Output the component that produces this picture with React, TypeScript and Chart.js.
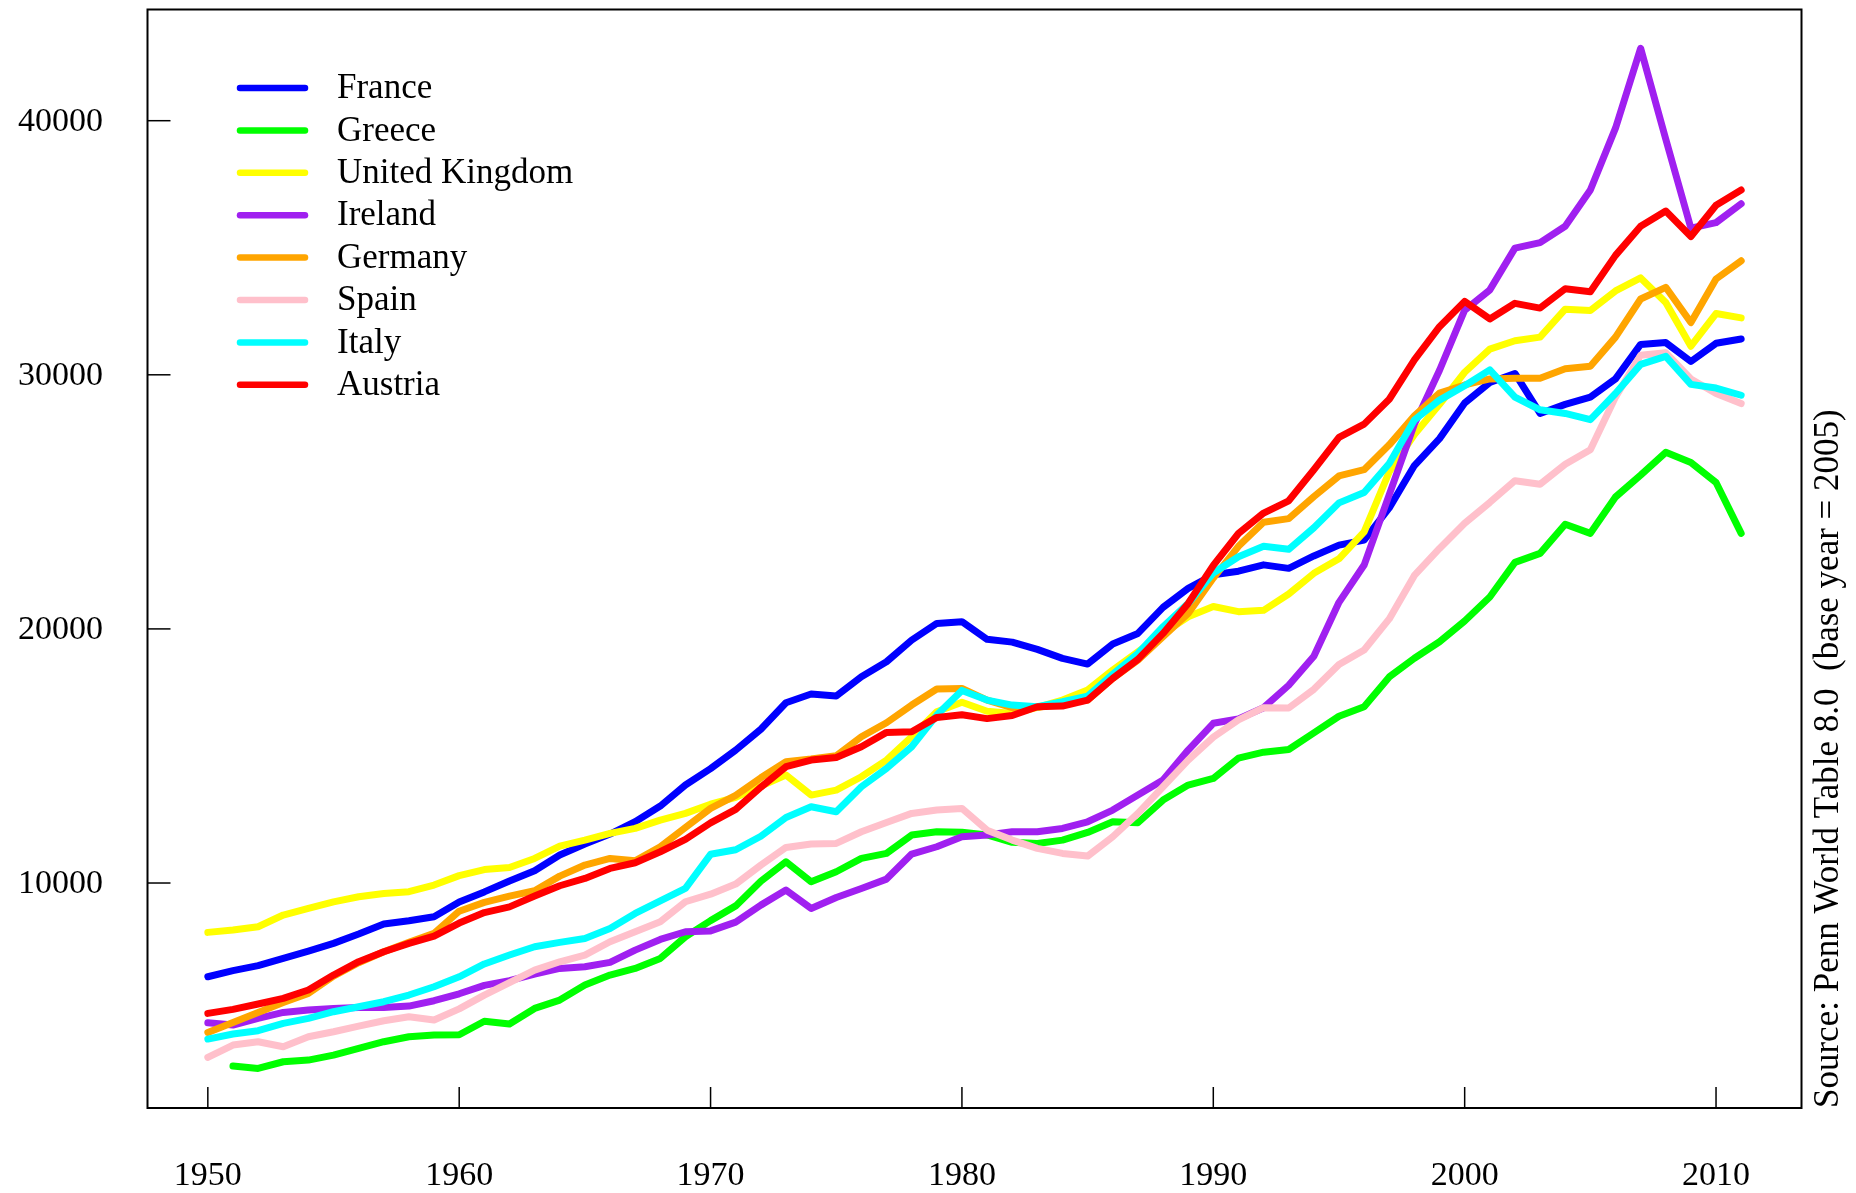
import React, { useEffect, useRef } from "react";
import { Chart, registerables } from "chart.js";

Chart.register(...registerables);

const years = [
  1950, 1951, 1952, 1953, 1954, 1955, 1956, 1957, 1958, 1959,
  1960, 1961, 1962, 1963, 1964, 1965, 1966, 1967, 1968, 1969,
  1970, 1971, 1972, 1973, 1974, 1975, 1976, 1977, 1978, 1979,
  1980, 1981, 1982, 1983, 1984, 1985, 1986, 1987, 1988, 1989,
  1990, 1991, 1992, 1993, 1994, 1995, 1996, 1997, 1998, 1999,
  2000, 2001, 2002, 2003, 2004, 2005, 2006, 2007, 2008, 2009,
  2010, 2011,
];

const france = [
  6312, 6550, 6750, 7034, 7322, 7625, 7992, 8385, 8516, 8674,
  9250, 9650, 10080, 10483, 11100, 11532, 11926, 12411, 13028, 13855,
  14500, 15230, 16050, 17095, 17436, 17357, 18118, 18708, 19561, 20217,
  20283, 19590, 19480, 19193, 18839, 18616, 19403, 19823, 20847, 21594,
  22130, 22270, 22520, 22383, 22872, 23296, 23492, 24764, 26428, 27488,
  28890, 29695, 30053, 28480, 28837, 29123, 29838, 31197, 31268, 30524,
  31240, 31411,
];

const greece = [
  null, 2796, 2704, 2966, 3032, 3229, 3491, 3754, 3951, 4016,
  4030, 4560, 4450, 5064, 5392, 5983, 6376, 6638, 7032, 7885,
  8520, 9100, 10070, 10836, 10049, 10443, 10968, 11164, 11886, 12017,
  12000, 11890, 11600, 11558, 11689, 11991, 12410, 12371, 13263, 13854,
  14115, 14916, 15150, 15256, 15908, 16561, 16934, 18110, 18844, 19496,
  20312, 21258, 22617, 22974, 24118, 23761, 25191, 26049, 26950, 26549,
  25763, 23761,
];

const unitedKingdom = [
  8057, 8150, 8280, 8740, 9000, 9260, 9460, 9590, 9660, 9920,
  10290, 10530, 10610, 10968, 11454, 11690, 11952, 12149, 12477, 12740,
  13100, 13369, 13815, 14248, 13460, 13657, 14182, 14838, 15756, 16740,
  17115, 16760, 16670, 16911, 17199, 17593, 18380, 19102, 19823, 20479,
  20880, 20680, 20730, 21372, 22187, 22758, 23818, 26183, 27651, 28842,
  30100, 31011, 31339, 31483, 32584, 32526, 33299, 33813, 32841, 31125,
  32412, 32240,
];

const ireland = [
  4502, 4410, 4672, 4908, 5000, 5066, 5105, 5105, 5158, 5368,
  5640, 5970, 6160, 6416, 6638, 6704, 6875, 7360, 7780, 8082,
  8115, 8460, 9130, 9721, 8999, 9432, 9787, 10154, 11138, 11427,
  11820, 11886, 12020, 12017, 12148, 12410, 12870, 13460, 14050, 15231,
  16285, 16460, 16900, 17783, 18925, 21045, 22513, 25286, 28059, 30179,
  32544, 33341, 34986, 35201, 35844, 37274, 39705, 42851, 39276, 35773,
  35987, 36731,
];

const germany = [
  4121, 4515, 4908, 5302, 5656, 6339, 6863, 7296, 7664, 8018,
  8890, 9240, 9487, 9695, 10272, 10706, 10968, 10877, 11428, 12188,
  12936, 13450, 14140, 14772, 14877, 15009, 15756, 16307, 17003, 17633,
  17659, 17200, 16900, 16910, 17068, 17199, 18052, 18774, 19692, 20610,
  22000, 23250, 24200, 24340, 25205, 26020, 26265, 27243, 28385, 29282,
  29600, 29838, 29866, 29866, 30238, 30338, 31482, 32984, 33442, 32055,
  33771, 34486,
];

const spain = [
  3137, 3623, 3754, 3557, 3951, 4148, 4370, 4580, 4738, 4607,
  5045, 5590, 6080, 6573, 6901, 7163, 7688, 8082, 8475, 9262,
  9560, 9957, 10705, 11401, 11532, 11558, 12017, 12385, 12739, 12870,
  12936, 12080, 11689, 11361, 11164, 11059, 11820, 12738, 13788, 14838,
  15740, 16420, 16900, 16887, 17621, 18599, 19170, 20393, 22106, 23166,
  24160, 24976, 25834, 25691, 26478, 27049, 29123, 30768, 30868, 29838,
  29266, 28866,
];

const italy = [
  3859, 4056, 4187, 4476, 4672, 4935, 5132, 5328, 5591, 5919,
  6310, 6815, 7165, 7491, 7662, 7819, 8213, 8803, 9302, 9787,
  11130, 11309, 11840, 12581, 13001, 12804, 13788, 14510, 15363, 16609,
  17580, 17199, 17002, 16937, 17134, 17357, 18222, 19036, 20086, 21004,
  22200, 22840, 23250, 23133, 23981, 24960, 25368, 26509, 28222, 29005,
  29570, 30195, 29123, 28622, 28479, 28236, 29266, 30410, 30725, 29624,
  29480, 29195,
];

const austria = [
  4869, 5027, 5237, 5460, 5788, 6378, 6903, 7296, 7625, 7913,
  8425, 8838, 9060, 9486, 9892, 10181, 10575, 10798, 11231, 11716,
  12365, 12900, 13770, 14576, 14838, 14943, 15363, 15927, 15953, 16517,
  16620, 16470, 16590, 16937, 16963, 17199, 18052, 18800, 19823, 21004,
  22500, 23756, 24560, 25042, 26265, 27537, 28059, 29038, 30587, 31892,
  32890, 32198, 32812, 32626, 33384, 33270, 34700, 35844, 36445, 35444,
  36673, 37274,
];

const seriesNames = [
  "France",
  "Greece",
  "United Kingdom",
  "Ireland",
  "Germany",
  "Spain",
  "Italy",
  "Austria",
];

const seriesColors = [
  "#0000FF",
  "#00FF00",
  "#FFFF00",
  "#A020F0",
  "#FFA500",
  "#FFC0CB",
  "#00FFFF",
  "#FF0000",
];

const xTicks = [1950, 1960, 1970, 1980, 1990, 2000, 2010];
const yTicks = [10000, 20000, 30000, 40000];
const sourceText = "Source: Penn World Table 8.0  (base year = 2005)";

const SERIF = "'Liberation Serif', 'Times New Roman', Times, serif";

export default function App() {
  const canvasRef = useRef<HTMLCanvasElement | null>(null);

  useEffect(() => {
    const canvas = canvasRef.current;
    if (!canvas) return;
    const seriesValues = [
      france,
      greece,
      unitedKingdom,
      ireland,
      germany,
      spain,
      italy,
      austria,
    ];

    const datasets = seriesNames.map((name, i) => ({
      label: name,
      data: years.map((yr, j) => ({ x: yr, y: seriesValues[i][j] })),
      borderColor: seriesColors[i],
      backgroundColor: seriesColors[i],
      borderWidth: 7,
      pointRadius: 0,
      pointHoverRadius: 0,
      tension: 0,
      fill: false,
      borderCapStyle: "round" as const,
      borderJoinStyle: "round" as const,
      order: seriesNames.length - i,
      spanGaps: false,
    }));

    const framePlugin = {
      id: "framePlugin",
      afterDraw(chart: any) {
        const ctx: CanvasRenderingContext2D = chart.ctx;
        const area = chart.chartArea;
        const xs = chart.scales.x;
        const ys = chart.scales.y;
        ctx.save();

        // box
        ctx.strokeStyle = "#000";
        ctx.lineWidth = 2;
        ctx.strokeRect(area.left, area.top, area.right - area.left, area.bottom - area.top);

        // x ticks (inside) and labels
        ctx.lineWidth = 1.5;
        ctx.fillStyle = "#000";
        ctx.font = `34px ${SERIF}`;
        ctx.textAlign = "center";
        ctx.textBaseline = "middle";
        xTicks.forEach((t) => {
          const px = xs.getPixelForValue(t);
          ctx.beginPath();
          ctx.moveTo(px, area.bottom);
          ctx.lineTo(px, area.bottom - 21);
          ctx.stroke();
          ctx.fillText(String(t), px, 1176);
        });

        // y ticks (inside) and labels
        ctx.textAlign = "right";
        yTicks.forEach((t) => {
          const py = ys.getPixelForValue(t);
          ctx.beginPath();
          ctx.moveTo(area.left, py);
          ctx.lineTo(area.left + 23, py);
          ctx.stroke();
          ctx.fillText(String(t), 103, py + 1);
        });

        // legend
        ctx.textAlign = "left";
        ctx.font = `35px ${SERIF}`;
        seriesNames.forEach((name, i) => {
          const yy = 88 + 42.4 * i;
          ctx.beginPath();
          ctx.strokeStyle = seriesColors[i];
          ctx.lineWidth = 6.5;
          ctx.lineCap = "round";
          ctx.moveTo(240, yy);
          ctx.lineTo(305, yy);
          ctx.stroke();
          ctx.fillStyle = "#000";
          ctx.fillText(name, 337, yy + 1);
        });

        // source text, rotated
        ctx.translate(1829, area.bottom);
        ctx.rotate(-Math.PI / 2);
        ctx.font = `35px ${SERIF}`;
        ctx.textAlign = "left";
        ctx.textBaseline = "middle";
        ctx.fillStyle = "#000";
        ctx.fillText(sourceText, 0, 0);

        ctx.restore();
      },
    };

    const chart = new Chart(canvas, {
      type: "line",
      data: { datasets: datasets as any },
      options: {
        responsive: false,
        maintainAspectRatio: false,
        devicePixelRatio: 1,
        animation: false,
        layout: {
          padding: { left: 147.5, right: 54.5, top: 9.5, bottom: 85 },
        },
        scales: {
          x: { type: "linear", min: 1947.6, max: 2013.4, display: false },
          y: { type: "linear", min: 1146, max: 44376, display: false },
        },
        plugins: {
          legend: { display: false },
          tooltip: { enabled: false },
        },
        events: [],
      },
      plugins: [framePlugin],
    });

    return () => {
      chart.destroy();
    };
  }, []);

  return (
    <div
      style={{
        position: "absolute",
        left: 0,
        top: 0,
        width: 1856,
        height: 1193,
        background: "#ffffff",
      }}
    >
      <canvas
        ref={canvasRef}
        width={1856}
        height={1193}
        style={{ width: 1856, height: 1193, display: "block" }}
      />
    </div>
  );
}
